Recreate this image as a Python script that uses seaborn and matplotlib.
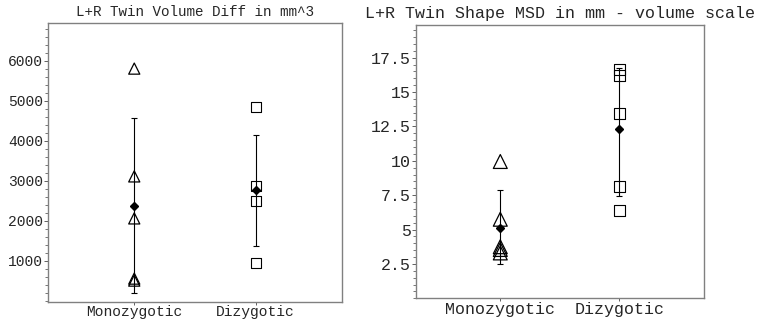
import matplotlib
matplotlib.use("Agg")
import matplotlib.pyplot as plt
import seaborn as sns
import pandas as pd
from matplotlib.ticker import AutoMinorLocator, FixedLocator

groups = ["Monozygotic", "Dizygotic"]

vol_mz = [5810, 3115, 2065, 560, 510]
vol_dz = [4850, 2885, 2495, 942]
vol_mean = [2383, 2780]
vol_lo = [192, 1375]
vol_hi = [4568, 4150]
vol_ticks = [1000, 2000, 3000, 4000, 5000, 6000]

shape_mz = [9.95, 5.75, 3.75, 3.55, 3.3]
shape_dz = [16.65, 16.2, 13.45, 8.15, 6.4]
shape_mean = [5.12, 12.3]
shape_lo = [2.52, 7.47]
shape_hi = [7.88, 16.78]
shape_ticks = [2.5, 5, 7.5, 10, 12.5, 15, 17.5]
shape_ticklabels = ["2.5", "5", "7.5", "10", "12.5", "15", "17.5"]

sns.set_style("white")
plt.rcParams["font.family"] = ["Liberation Mono", "DejaVu Sans Mono"]

fig = plt.figure(figsize=(7.59, 3.21), dpi=100)
ax1 = fig.add_axes([48/759, 1-302/321, 294/759, 279/321])
ax2 = fig.add_axes([415.7/759, 1-298.3/321, 288.3/759, 273.6/321])


def draw(ax, mz, dz, mean, lo, hi, tri_size, sq_size, fsize):
    df_mz = pd.DataFrame({"group": ["Monozygotic"] * len(mz), "value": mz})
    df_dz = pd.DataFrame({"group": ["Dizygotic"] * len(dz), "value": dz})
    sns.stripplot(data=df_mz, x="group", y="value", order=groups, jitter=False,
                  marker="^", s=tri_size, linewidth=0.9, ax=ax, zorder=3)
    sns.stripplot(data=df_dz, x="group", y="value", order=groups, jitter=False,
                  marker="s", s=sq_size, linewidth=0.8, ax=ax, zorder=3)
    for coll in ax.collections:
        coll.set_facecolor("none")
        coll.set_edgecolor("black")
    yerr = [[m - l for m, l in zip(mean, lo)], [h - m for m, h in zip(mean, hi)]]
    ax.errorbar([0, 1], mean, yerr=yerr, fmt="D", color="black", ms=4,
                elinewidth=0.8, capsize=2.2, capthick=0.8, zorder=4)
    ax.set_xlabel("")
    ax.set_ylabel("")
    ax.set_xlim(-0.71, 1.71)
    for s in ax.spines.values():
        s.set_color("#808080")
        s.set_linewidth(1.0)
    ax.tick_params(axis="x", direction="out", length=2.5, width=0.7,
                   color="#606060", labelsize=fsize, pad=0, bottom=True)
    ax.tick_params(axis="y", direction="out", length=3, width=0.7,
                   color="#606060", labelsize=fsize, pad=0.5, left=True)
    ax.tick_params(axis="y", which="minor", direction="out", length=2,
                   width=0.6, color="#606060", left=True)


draw(ax1, vol_mz, vol_dz, vol_mean, vol_lo, vol_hi, 8, 7.2, 10.5)
ax1.set_ylim(-25, 6950)
ax1.yaxis.set_major_locator(FixedLocator(vol_ticks))
ax1.yaxis.set_minor_locator(AutoMinorLocator(5))
ax1.set_title("L+R Twin Volume Diff in mm^3", fontsize=10.3, pad=5)

draw(ax2, shape_mz, shape_dz, shape_mean, shape_lo, shape_hi, 10, 7.7, 12)
ax2.set_ylim(0, 19.9)
ax2.set_yticks(shape_ticks)
ax2.set_yticklabels(shape_ticklabels)
ax2.yaxis.set_minor_locator(AutoMinorLocator(5))
ax2.set_title("L+R Twin Shape MSD in mm - volume scale", fontsize=12, pad=5)

fig.savefig("out.png", dpi=100)
